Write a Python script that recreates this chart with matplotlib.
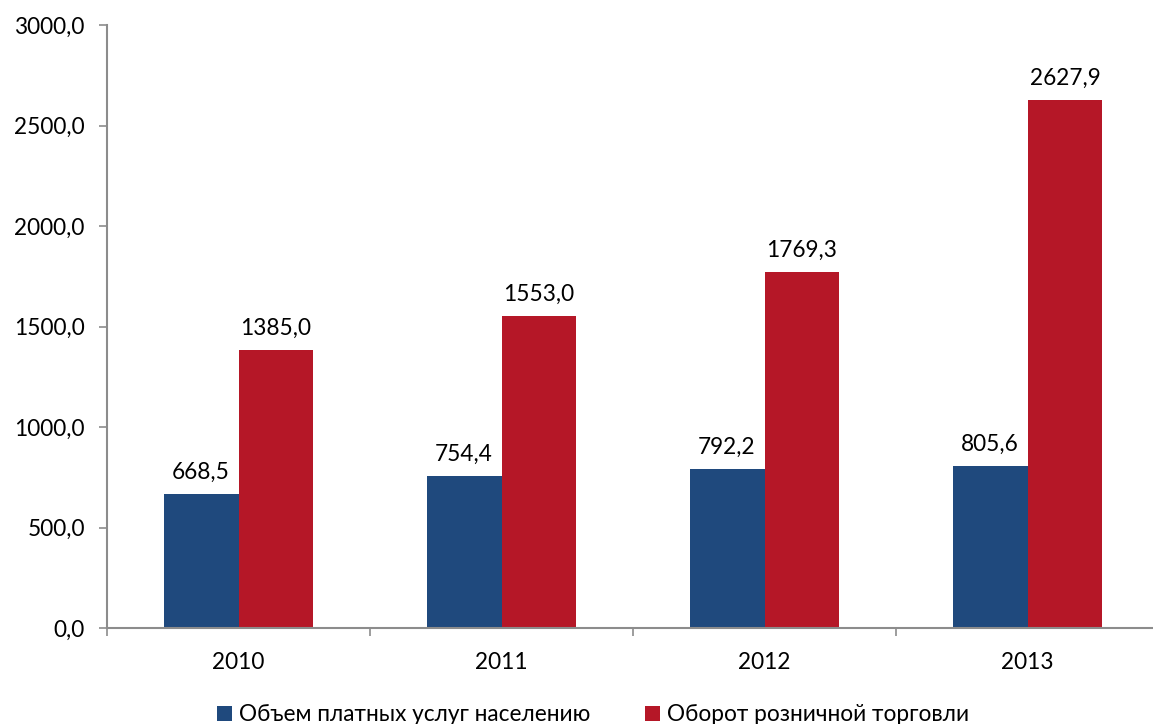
import matplotlib
matplotlib.use("Agg")
import matplotlib.pyplot as plt
import numpy as np
from matplotlib.patches import Patch

years = ["2010", "2011", "2012", "2013"]
series_names = ["Объем платных услуг населению", "Оборот розничной торговли"]
services = [668.5, 754.4, 792.2, 805.6]
retail = [1385.0, 1553.0, 1769.3, 2627.9]
yticks = [0, 500, 1000, 1500, 2000, 2500, 3000]

blue = "#1F497D"
red = "#B51727"
grey = "#8C8C8C"
FS = 16.3

plt.rcParams['font.family'] = ['Lato', 'DejaVu Sans']

fig = plt.figure(figsize=(11.53, 7.24), dpi=100)
W, H = 1153, 724
ax = fig.add_axes([107 / W, (H - 628) / H, (1159 - 107) / W, (628 - 25) / H])

x = np.arange(len(years))
bw = 0.285
b1 = ax.bar(x - bw / 2, services, bw, color=blue, label=series_names[0])
b2 = ax.bar(x + bw / 2, retail, bw, color=red, label=series_names[1])

fmt = lambda v: f"{v:.1f}".replace(".", ",")
for bars, vals in ((b1, services), (b2, retail)):
    for r, v in zip(bars, vals):
        ax.annotate(fmt(v), (r.get_x() + r.get_width() / 2, v),
                    xytext=(0, 8), textcoords="offset points",
                    ha="center", va="bottom", fontsize=FS, color="black")

ax.set_xlim(-0.5, len(years) - 0.5)
ax.set_ylim(0, 3000)
ax.set_yticks(yticks)
ax.set_yticklabels([fmt(v) for v in yticks], fontsize=FS)
ax.set_xticks(x)
ax.set_xticklabels(years, fontsize=FS)
ax.set_xticks(np.arange(-0.5, len(years) + 0.5, 1), minor=True)
ax.tick_params(axis="x", which="major", length=0, pad=17)
ax.tick_params(axis="x", which="minor", length=6, color=grey, width=1.2)
ax.tick_params(axis="y", length=6, color=grey, width=1.2, pad=10)

for s in ("top", "right"):
    ax.spines[s].set_visible(False)
for s in ("left", "bottom"):
    ax.spines[s].set_color(grey)
    ax.spines[s].set_linewidth(1.5)

handles = [Patch(facecolor=blue), Patch(facecolor=red)]
fig.legend(handles, series_names, loc="lower center", ncol=2, frameon=False,
           bbox_to_anchor=(593 / W, -0.03), fontsize=FS,
           handlelength=0.65, handleheight=0.65, handletextpad=0.3,
           columnspacing=2.45)

fig.savefig("out.png", dpi=100)
